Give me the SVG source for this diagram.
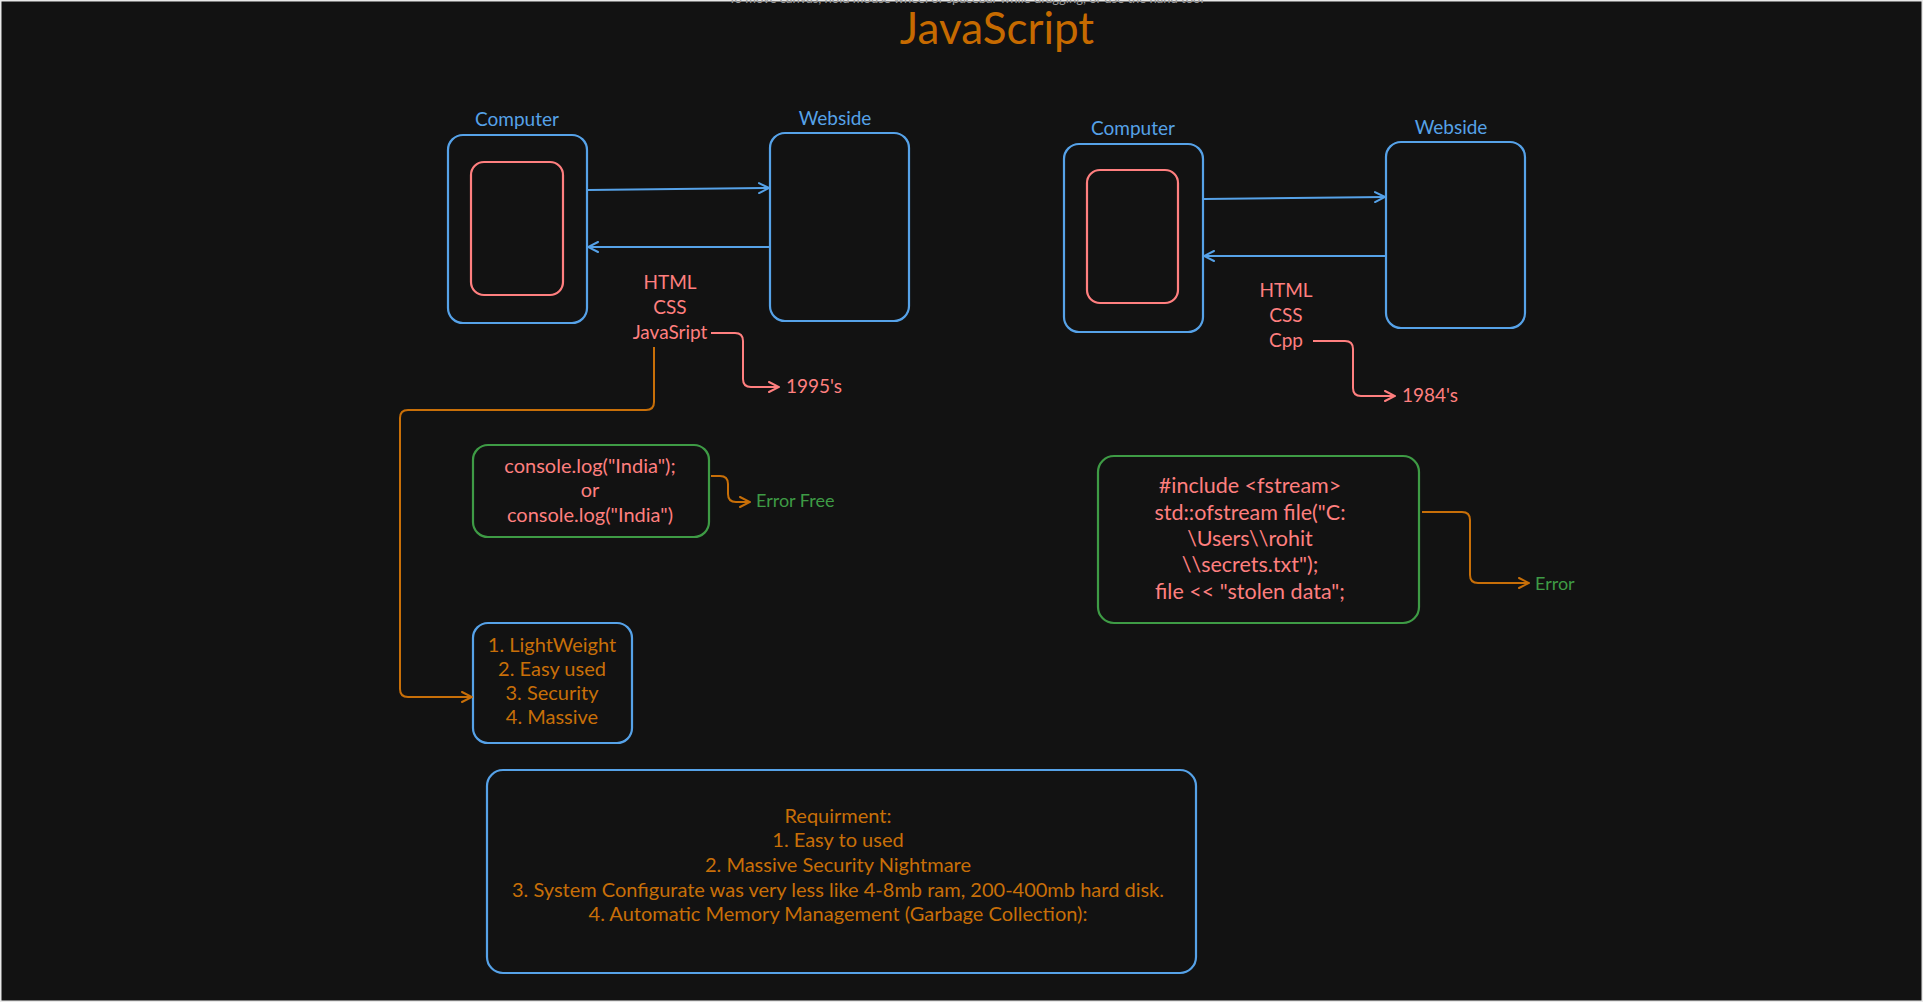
<svg xmlns="http://www.w3.org/2000/svg" width="1923" height="1002" viewBox="0 0 1923 1002">
<style>
text{font-family:Lato,"Open Sans","Liberation Sans",sans-serif;font-size:19px;text-anchor:middle}
.b{fill:none;stroke:#56a2e8;stroke-width:2.2}
.p{fill:none;stroke:#ff7f7f;stroke-width:2.2}
.g{fill:none;stroke:#3e9b45;stroke-width:2.2}
.bt{fill:#56a2e8}
.pt{fill:#ff7f7f}
.ot{fill:#c86f08}
.gt{fill:#3e9b45}
.t20{font-size:20px}
.t22{font-size:21.5px}
.cb{fill:none;stroke:#56a2e8;stroke-width:2}
.cp{fill:none;stroke:#ff7f7f;stroke-width:2}
.co{fill:none;stroke:#c86f08;stroke-width:2}
</style>
<defs>
<marker id="ab" viewBox="0 0 12 12" refX="11" refY="6" markerWidth="12" markerHeight="12" markerUnits="userSpaceOnUse" orient="auto"><path d="M1,1 L11,6 L1,11" fill="none" stroke="#56a2e8" stroke-width="2" stroke-linecap="round"/></marker>
<marker id="ap" viewBox="0 0 12 12" refX="11" refY="6" markerWidth="12" markerHeight="12" markerUnits="userSpaceOnUse" orient="auto"><path d="M1,1 L11,6 L1,11" fill="none" stroke="#ff7f7f" stroke-width="2" stroke-linecap="round"/></marker>
<marker id="ao" viewBox="0 0 12 12" refX="11" refY="6" markerWidth="12" markerHeight="12" markerUnits="userSpaceOnUse" orient="auto"><path d="M1,1 L11,6 L1,11" fill="none" stroke="#c86f08" stroke-width="2" stroke-linecap="round"/></marker>
</defs>
<rect x="0" y="0" width="1923" height="1002" fill="#121212"/>
<rect x="0" y="0" width="1923" height="1002" fill="none" stroke="#e8e8e8" stroke-width="3"/>
<text x="966" y="3" style="font-size:13px;fill:#9a9a9a">To move canvas, hold mouse wheel or spacebar while dragging, or use the hand tool</text>
<text x="997" y="44" class="ot" style="font-size:44px;fill:#c66a00">JavaScript</text>

<g id="computer1">
<text x="517" y="126" class="bt">Computer</text>
<rect x="448" y="135" width="139" height="188" rx="15" class="b"/>
<rect x="471" y="162" width="92" height="133" rx="13" class="p"/>
</g>
<g id="webside1">
<text x="835" y="125" class="bt">Webside</text>
<rect x="770" y="133" width="139" height="188" rx="15" class="b"/>
</g>
<g id="tech1">
<text x="670" y="289" class="pt">HTML</text>
<text x="670" y="314" class="pt">CSS</text>
<text x="670" y="339" class="pt">JavaSript</text>
</g>
<g id="year1"><text x="786" y="393" class="pt" style="text-anchor:start">1995's</text></g>

<g id="computer2">
<text x="1133" y="135" class="bt">Computer</text>
<rect x="1064" y="144" width="139" height="188" rx="15" class="b"/>
<rect x="1087" y="170" width="91" height="133" rx="13" class="p"/>
</g>
<g id="webside2">
<text x="1451" y="134" class="bt">Webside</text>
<rect x="1386" y="142" width="139" height="186" rx="15" class="b"/>
</g>
<g id="tech2">
<text x="1286" y="297" class="pt">HTML</text>
<text x="1286" y="322" class="pt">CSS</text>
<text x="1286" y="347" class="pt">Cpp</text>
</g>
<g id="year2"><text x="1402" y="402" class="pt" style="text-anchor:start">1984's</text></g>

<g id="jscode">
<rect x="473" y="445" width="236" height="92" rx="15" class="g"/>
<text x="590" y="473" class="pt t20">console.log("India");</text>
<text x="590" y="497" class="pt t20">or</text>
<text x="590" y="522" class="pt t20">console.log("India")</text>
</g>
<g id="errorfree"><text x="756" y="507" class="gt" style="text-anchor:start;font-size:18px">Error Free</text></g>

<g id="cppcode">
<rect x="1098" y="456" width="321" height="167" rx="16" class="g"/>
<text x="1250" y="493" class="pt t22">#include &lt;fstream&gt;</text>
<text x="1250" y="520" class="pt t22">std::ofstream file("C:</text>
<text x="1250" y="546" class="pt t22">\Users\\rohit</text>
<text x="1250" y="572" class="pt t22">\\secrets.txt");</text>
<text x="1250" y="599" class="pt t22">file &lt;&lt; "stolen data";</text>
</g>
<g id="error"><text x="1535" y="590" class="gt" style="text-anchor:start;font-size:18px">Error</text></g>

<g id="features">
<rect x="473" y="623" width="159" height="120" rx="15" class="b"/>
<text x="552" y="652" class="ot t20">1. LightWeight</text>
<text x="552" y="676" class="ot t20">2. Easy used</text>
<text x="552" y="700" class="ot t20">3. Security</text>
<text x="552" y="724" class="ot t20">4. Massive</text>
</g>

<g id="requirement">
<rect x="487" y="770" width="709" height="203" rx="16" class="b"/>
<text x="838" y="823" class="ot t20">Requirment:</text>
<text x="838" y="847" class="ot t20">1. Easy to used</text>
<text x="838" y="872" class="ot t20">2. Massive Security Nightmare</text>
<text x="838" y="897" class="ot t20">3. System Configurate was very less like 4-8mb ram, 200-400mb hard disk.</text>
<text x="838" y="921" class="ot t20">4. Automatic Memory Management (Garbage Collection):</text>
</g>

<g id="connectors">
<path d="M588,190 L769,188" class="cb" marker-end="url(#ab)"/>
<path d="M769,247 L588,247" class="cb" marker-end="url(#ab)"/>
<path d="M1204,199 L1385,197" class="cb" marker-end="url(#ab)"/>
<path d="M1385,256 L1204,256" class="cb" marker-end="url(#ab)"/>
<path d="M711,333 L735,333 Q743,333 743,341 L743,379 Q743,387 751,387 L779,387" class="cp" marker-end="url(#ap)"/>
<path d="M1313,341 L1345,341 Q1353,341 1353,349 L1353,388 Q1353,396 1361,396 L1395,396" class="cp" marker-end="url(#ap)"/>
<path d="M654,347 L654,402 Q654,410 646,410 L408,410 Q400,410 400,418 L400,689 Q400,697 408,697 L472,697" class="co" marker-end="url(#ao)"/>
<path d="M711,476 L720,476 Q728,476 728,484 L728,494 Q728,502 736,502 L750,502" class="co" marker-end="url(#ao)"/>
<path d="M1422,512 L1462,512 Q1470,512 1470,520 L1470,575 Q1470,583 1478,583 L1529,583" class="co" marker-end="url(#ao)"/>
</g>
</svg>
